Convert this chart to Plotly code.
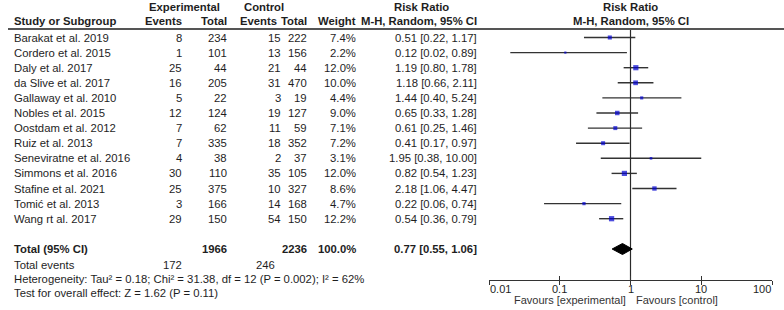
import math
import plotly.graph_objects as go

# ---------------- data ----------------
studies = ["Barakat et al. 2019", "Cordero et al. 2015", "Daly et al. 2017", "da Slive et al. 2017",
           "Gallaway et al. 2010", "Nobles et al. 2015", "Oostdam et al. 2012", "Ruiz et al. 2013",
           "Seneviratne et al. 2016", "Simmons et al. 2016", "Stafine et al. 2021", "Tomić et al. 2013",
           "Wang rt al. 2017"]
exp_events = [8, 1, 25, 16, 5, 12, 7, 7, 4, 30, 25, 3, 29]
exp_total = [234, 101, 44, 205, 22, 124, 62, 335, 38, 110, 375, 166, 150]
ctrl_events = [15, 13, 21, 31, 3, 19, 11, 18, 2, 35, 10, 14, 54]
ctrl_total = [222, 156, 44, 470, 19, 127, 59, 352, 37, 105, 327, 168, 150]
weights = [7.4, 2.2, 12.0, 10.0, 4.4, 9.0, 7.1, 7.2, 3.1, 12.0, 8.6, 4.7, 12.2]
rr = [0.51, 0.12, 1.19, 1.18, 1.44, 0.65, 0.61, 0.41, 1.95, 0.82, 2.18, 0.22, 0.54]
ci_lo = [0.22, 0.02, 0.80, 0.66, 0.40, 0.33, 0.25, 0.17, 0.38, 0.54, 1.06, 0.06, 0.36]
ci_hi = [1.17, 0.89, 1.78, 2.11, 5.24, 1.28, 1.46, 0.97, 10.00, 1.23, 4.47, 0.74, 0.79]

total_exp = 1966
total_ctrl = 2236
total_weight = "100.0%"
total_rr = 0.77
total_lo = 0.55
total_hi = 1.06
total_events_exp = 172
total_events_ctrl = 246
heterogeneity = "Heterogeneity: Tau² = 0.18; Chi² = 31.38, df = 12 (P = 0.002); I² = 62%"
overall_test = "Test for overall effect: Z = 1.62 (P = 0.11)"

tick_values = [0.01, 0.1, 1, 10, 100]
tick_labels = ["0.01", "0.1", "1", "10", "100"]
favours_left = "Favours [experimental]"
favours_right = "Favours [control]"

# ---------------- layout constants (pixels) ----------------
W, H = 784, 310
FONT = "Arial, Liberation Sans, sans-serif"
FS = 11.3
TXT = "#1e1e1e"
ROW0, ROWH = 37.5, 15.1
row_y = [ROW0 + ROWH * i for i in range(len(studies))]
Y_H1, Y_H2, Y_RULE = 6.5, 21, 29
Y_TOTAL, Y_TEV, Y_HET, Y_TEST = 249, 265, 279, 292.5
Y_AXIS, Y_TICKLAB, Y_FAV = 280, 288.5, 300
PLOT_L, PLOT_R = 489, 772

def px(x):
    return x / W

fig = go.Figure()

# CI lines
xs, ys = [], []
for lo, hi, y in zip(ci_lo, ci_hi, row_y):
    xs += [lo, hi, None]
    ys += [y, y, None]
fig.add_trace(go.Scatter(x=xs, y=ys, mode="lines", line=dict(color="#333333", width=1.4),
                         hoverinfo="skip", showlegend=False))

# null line at 1
fig.add_trace(go.Scatter(x=[1, 1], y=[Y_RULE, Y_AXIS], mode="lines",
                         line=dict(color="#2a2a2a", width=1.2), hoverinfo="skip", showlegend=False))

# point estimates
fig.add_trace(go.Scatter(x=rr, y=row_y, mode="markers",
                         marker=dict(symbol="square", color="#0000d0",
                                     size=[max(2.2, 1.5 * math.sqrt(w)) for w in weights],
                                     line=dict(width=0)),
                         showlegend=False))

# diamond
dh = 5.5
fig.add_trace(go.Scatter(x=[total_lo, total_rr, total_hi, total_rr, total_lo],
                         y=[Y_TOTAL, Y_TOTAL - dh, Y_TOTAL, Y_TOTAL + dh, Y_TOTAL],
                         mode="lines", fill="toself", fillcolor="black",
                         line=dict(color="black", width=1), showlegend=False, hoverinfo="skip"))

# dummy trace for second axis (ticks inward)
fig.add_trace(go.Scatter(x=[1], y=[Y_AXIS], xaxis="x2", mode="markers",
                         marker=dict(opacity=0), showlegend=False, hoverinfo="skip"))

ann = []

def add(text, xpix, y, anchor="left", bold=False):
    ann.append(dict(text=f"<b>{text}</b>" if bold else text, x=px(xpix), y=y, xref="paper", yref="y",
                    xanchor=anchor, yanchor="middle", showarrow=False,
                    font=dict(family=FONT, size=FS, color=TXT)))

# headers
add("Experimental", 184, Y_H1, "center", True)
add("Control", 264, Y_H1, "center", True)
add("Risk Ratio", 421, Y_H1, "center", True)
add("Study or Subgroup", 12, Y_H2, "left", True)
add("Events", 184, Y_H2, "right", True)
add("Total", 229, Y_H2, "right", True)
add("Events", 279, Y_H2, "right", True)
add("Total", 309, Y_H2, "right", True)
add("Weight", 358, Y_H2, "right", True)
add("M-H, Random, 95% CI", 479, Y_H2, "right", True)
for t, y in [("Risk Ratio", Y_H1), ("M-H, Random, 95% CI", Y_H2)]:
    ann.append(dict(text=f"<b>{t}</b>", x=0, y=y, xref="x", yref="y", xanchor="center", yanchor="middle",
                    showarrow=False, font=dict(family=FONT, size=FS, color=TXT)))

# study rows
for i, y in enumerate(row_y):
    add(studies[i], 12, y, "left")
    add(str(exp_events[i]), 184, y, "right")
    add(str(exp_total[i]), 229, y, "right")
    add(str(ctrl_events[i]), 283, y, "right")
    add(str(ctrl_total[i]), 309, y, "right")
    add(f"{weights[i]:.1f}%", 358, y, "right")
    add(f"{rr[i]:.2f} [{ci_lo[i]:.2f}, {ci_hi[i]:.2f}]", 479, y, "right")

# totals
add("Total (95% CI)", 12, Y_TOTAL, "left", True)
add(str(total_exp), 229, Y_TOTAL, "right", True)
add(str(total_ctrl), 309, Y_TOTAL, "right", True)
add(total_weight, 358, Y_TOTAL, "right", True)
add(f"{total_rr:.2f} [{total_lo:.2f}, {total_hi:.2f}]", 479, Y_TOTAL, "right", True)
add("Total events", 12, Y_TEV, "left")
add(str(total_events_exp), 184, Y_TEV, "right")
add(str(total_events_ctrl), 277, Y_TEV, "right")
add(heterogeneity, 12, Y_HET, "left")
add(overall_test, 12, Y_TEST, "left")

# axis tick labels
AXFS = 11
for i, (v, lab) in enumerate(zip(tick_values, tick_labels)):
    anchor = "left" if i == 0 else ("right" if i == len(tick_values) - 1 else "center")
    ann.append(dict(text=lab, x=math.log10(v), y=Y_TICKLAB, xref="x", yref="y", xanchor=anchor,
                    yanchor="middle", showarrow=False, borderpad=0,
                    font=dict(family=FONT, size=AXFS, color=TXT)))
ann.append(dict(text=favours_left, x=0, y=Y_FAV, xref="x", yref="y", xanchor="right", xshift=-4,
                yanchor="middle", showarrow=False, borderpad=0,
                font=dict(family=FONT, size=AXFS, color="#333")))
ann.append(dict(text=favours_right, x=0, y=Y_FAV, xref="x", yref="y", xanchor="left", xshift=4,
                yanchor="middle", showarrow=False, borderpad=0,
                font=dict(family=FONT, size=AXFS, color="#333")))

axis_pos = 1 - Y_AXIS / H
common = dict(type="log", range=[-2, 2], domain=[px(PLOT_L), px(PLOT_R)], anchor="free",
              position=axis_pos, tickvals=tick_values, showticklabels=False, showgrid=False,
              zeroline=False, tickcolor="#333", tickwidth=1, ticklen=4)
fig.update_layout(
    width=W, height=H, margin=dict(l=0, r=0, t=0, b=0),
    paper_bgcolor="white", plot_bgcolor="rgba(0,0,0,0)",
    xaxis=dict(**common, showline=True, linecolor="#333", linewidth=1, ticks="outside"),
    xaxis2=dict(**common, overlaying="x", showline=False, ticks="inside"),
    yaxis=dict(range=[H, 0], domain=[0, 1], visible=False, fixedrange=True),
    annotations=ann,
    shapes=[dict(type="line", xref="paper", yref="y", x0=px(8), x1=1, y0=Y_RULE, y1=Y_RULE,
                 line=dict(color="#555", width=2))],
    showlegend=False,
)

fig.write_html("out.html", config={"displayModeBar": False},
               post_script="document.body.style.margin='0';document.body.style.overflow='hidden';")
